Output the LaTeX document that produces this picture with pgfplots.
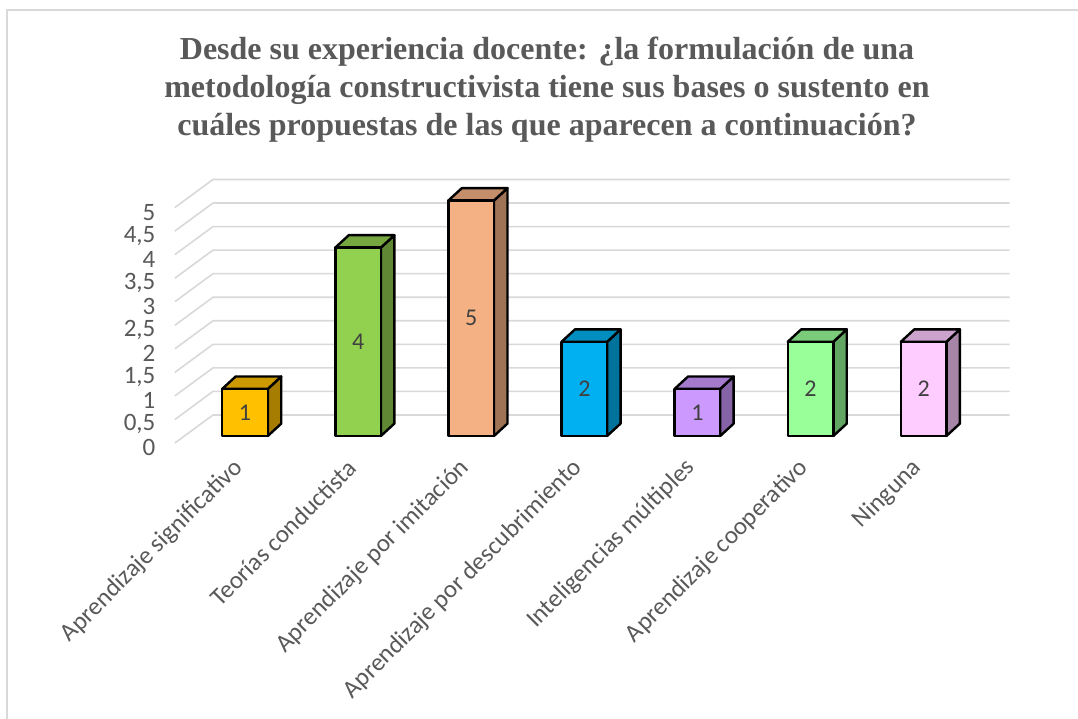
\documentclass[border=0pt]{standalone}
\usepackage{fontspec}
\setmainfont{Carlito}
\newfontfamily\titlefont{Liberation Serif}
\usepackage{pgfplots}
\pgfplotsset{compat=1.18}
\definecolor{gridc}{HTML}{D9D9D9}
\definecolor{labgray}{HTML}{595959}
\definecolor{valgray}{HTML}{404040}
\definecolor{cA}{HTML}{FFC000}
\definecolor{cB}{HTML}{92D050}
\definecolor{cC}{HTML}{F4B183}
\definecolor{cD}{HTML}{00B0F0}
\definecolor{cE}{HTML}{CC99FF}
\definecolor{cF}{HTML}{99FF99}
\definecolor{cG}{HTML}{FFCCFF}
% side and top faces of a 3-D bar: #1 position, #2 value, #3 colour
\newcommand\barfaces[3]{%
  \pgfmathsetmacro\xl{#1-0.2015}%
  \pgfmathsetmacro\xr{#1+0.2015}%
  \pgfmathsetmacro\xld{#1-0.2015+0.119}%
  \pgfmathsetmacro\xrd{#1+0.2015+0.119}%
  \pgfmathsetmacro\vd{#2+0.263}%
  \edef\tmp{%
    \noexpand\addplot[fill=#3!65!black, draw=black, line width=2.4pt, line join=round]
      coordinates {(\xr,0) (\xrd,0.263) (\xrd,\vd) (\xr,#2)} -- cycle;
    \noexpand\addplot[fill=#3!80!black, draw=black, line width=2.4pt, line join=round]
      coordinates {(\xl,#2) (\xld,\vd) (\xrd,\vd) (\xr,#2)} -- cycle;
    \noexpand\addplot[ybar, bar shift=0pt, bar width=0.403, fill=#3, draw=black, line width=2.4pt, line join=round]
      coordinates {(#1,#2)};
  }\tmp}
\newcommand\gridl[1]{%
  \pgfmathsetmacro\ya{#1-0.149}%
  \pgfmathsetmacro\yb{#1+0.446}%
  \edef\tmp{\noexpand\addplot[gridc, line width=1.6pt, line join=round]
      coordinates {(-0.62,\ya) (-0.283,\yb) (6.76,\yb)};}\tmp}
\begin{document}
\begin{tikzpicture}[x=1pt,y=1pt]
\fill[white] (0,0) rectangle (1078,-719);
\draw[gridc, line width=1.5pt] (7,-10) rectangle (1100,-740);
\node[align=center, font=\titlefont\bfseries\fontsize{32}{38}\selectfont, text=labgray]
  at (547,-90) {Desde su experiencia docente: ¿la formulación de una\\
  metodología constructivista tiene sus bases o sustento en\\
  cuáles propuestas de las que aparecen a continuación?};
\begin{axis}[
  at={(174.9pt,-450.1pt)}, anchor=south west,
  scale only axis, width=834.7pt, height=273.2pt,
  xmin=-0.62, xmax=6.76, ymin=-0.3, ymax=5.5,
  clip=false,
  axis line style={draw=none},
  major tick length=0pt,
  xtick={0,1,2,3,4,5,6},
  xticklabels={Aprendizaje significativo, Teorías conductista, Aprendizaje por imitación, Aprendizaje por descubrimiento, Inteligencias múltiples, Aprendizaje cooperativo, Ninguna},
  ytick={-0.25,0.25,0.75,1.25,1.75,2.25,2.75,3.25,3.75,4.25,4.75},
  yticklabels={0,{0,5},1,{1,5},2,{2,5},3,{3,5},4,{4,5},5},
  tick label style={font=\fontsize{25}{30}\selectfont, text=labgray},
  yticklabel style={anchor=east, xshift=-16pt},
  xticklabel style={xshift=-6pt, yshift=-14pt, rotate=45, anchor=east, inner sep=0pt},
]
\gridl{0}\gridl{0.5}\gridl{1}\gridl{1.5}\gridl{2}\gridl{2.5}
\gridl{3}\gridl{3.5}\gridl{4}\gridl{4.5}\gridl{5}
\barfaces{0}{1}{cA}
\barfaces{1}{4}{cB}
\barfaces{2}{5}{cC}
\barfaces{3}{2}{cD}
\barfaces{4}{1}{cE}
\barfaces{5}{2}{cF}
\barfaces{6}{2}{cG}
\addplot[draw=none, point meta=explicit symbolic, nodes near coords,
  every node near coord/.style={anchor=center, font=\fontsize{24}{28}\selectfont, text=valgray}]
  coordinates {(0,0.5)[1] (1,2)[4] (2,2.5)[5] (3,1)[2] (4,0.5)[1] (5,1)[2] (6,1)[2]};
\end{axis}
\pgfresetboundingbox
\path[use as bounding box] (0,0) rectangle (1078,-719);
\end{tikzpicture}
\end{document}
